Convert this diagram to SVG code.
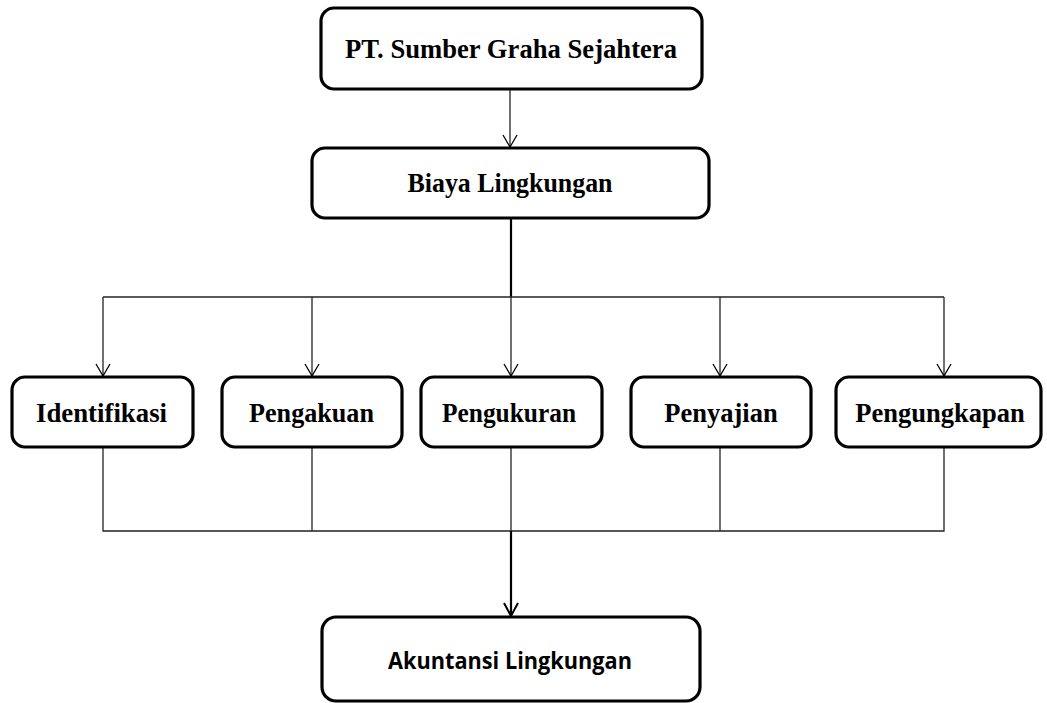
<svg xmlns="http://www.w3.org/2000/svg" width="1047" height="703" viewBox="0 0 1047 703">
<style>
.box{fill:#fff;stroke:#000;stroke-width:3.2}
.t{font-family:"Liberation Serif","Times New Roman",serif;font-weight:bold;font-size:26.5px;fill:#000;text-anchor:middle}
.ts{font-family:"Open Sans","Liberation Sans",sans-serif;font-weight:bold;font-size:22.5px;fill:#000;text-anchor:middle}
.c{fill:none;stroke:#222;stroke-width:1.3}
.ck{fill:none;stroke:#000;stroke-width:2.2}
</style>
<defs>
<marker id="ah" markerUnits="userSpaceOnUse" markerWidth="20" markerHeight="20" viewBox="-10 -16 20 20" refX="0" refY="0" orient="auto" overflow="visible">
<path d="M-12,-7 L0,0 L-12,7" fill="none" stroke="#000" stroke-width="1.3"/>
</marker>
<marker id="ahk" markerUnits="userSpaceOnUse" markerWidth="20" markerHeight="20" viewBox="-10 -16 20 20" refX="0" refY="0" orient="auto" overflow="visible">
<path d="M-13,-7 L0,0 L-13,7" fill="none" stroke="#000" stroke-width="2"/>
</marker>
</defs>
<g id="connectors">
<line class="c" x1="510" y1="89" x2="510" y2="147" marker-end="url(#ah)"/>
<line class="ck" x1="511" y1="218" x2="511" y2="297"/>
<line class="c" x1="103" y1="297" x2="944" y2="297"/>
<line class="c" x1="103" y1="297" x2="103" y2="376" marker-end="url(#ah)"/>
<line class="c" x1="312" y1="297" x2="312" y2="376" marker-end="url(#ah)"/>
<line class="c" x1="511" y1="297" x2="511" y2="376" marker-end="url(#ah)"/>
<line class="c" x1="720" y1="297" x2="720" y2="376" marker-end="url(#ah)"/>
<line class="c" x1="944" y1="297" x2="944" y2="376" marker-end="url(#ah)"/>
<polyline class="c" points="103,447 103,531 944,531 944,447"/>
<line class="c" x1="312" y1="447" x2="312" y2="531"/>
<line class="c" x1="511" y1="447" x2="511" y2="531"/>
<line class="c" x1="720" y1="447" x2="720" y2="531"/>
<line class="ck" x1="511" y1="531" x2="511" y2="616" marker-end="url(#ahk)"/>
</g>
<g id="node-pt">
<rect class="box" x="321" y="8" width="381" height="81" rx="13"/>
<text class="t" x="511" y="57.5" textLength="332" lengthAdjust="spacingAndGlyphs">PT. Sumber Graha Sejahtera</text>
</g>
<g id="node-biaya">
<rect class="box" x="312" y="148" width="397" height="70" rx="13"/>
<text class="t" x="510" y="192" textLength="205" lengthAdjust="spacingAndGlyphs">Biaya Lingkungan</text>
</g>
<g id="node-identifikasi">
<rect class="box" x="12" y="377" width="181" height="70" rx="13"/>
<text class="t" x="101.5" y="422" textLength="131" lengthAdjust="spacingAndGlyphs">Identifikasi</text>
</g>
<g id="node-pengakuan">
<rect class="box" x="222" y="377" width="180" height="70" rx="13"/>
<text class="t" x="311.5" y="422" textLength="125" lengthAdjust="spacingAndGlyphs">Pengakuan</text>
</g>
<g id="node-pengukuran">
<rect class="box" x="421" y="377" width="181" height="70" rx="13"/>
<text class="t" x="509" y="422" textLength="134" lengthAdjust="spacingAndGlyphs">Pengukuran</text>
</g>
<g id="node-penyajian">
<rect class="box" x="631" y="377" width="180" height="70" rx="13"/>
<text class="t" x="721" y="422">Penyajian</text>
</g>
<g id="node-pengungkapan">
<rect class="box" x="836" y="377" width="205" height="70" rx="13"/>
<text class="t" x="940" y="422">Pengungkapan</text>
</g>
<g id="node-akuntansi">
<rect class="box" x="322" y="617" width="378" height="84" rx="14"/>
<text class="ts" x="510" y="669" textLength="244" lengthAdjust="spacingAndGlyphs">Akuntansi Lingkungan</text>
</g>
</svg>
